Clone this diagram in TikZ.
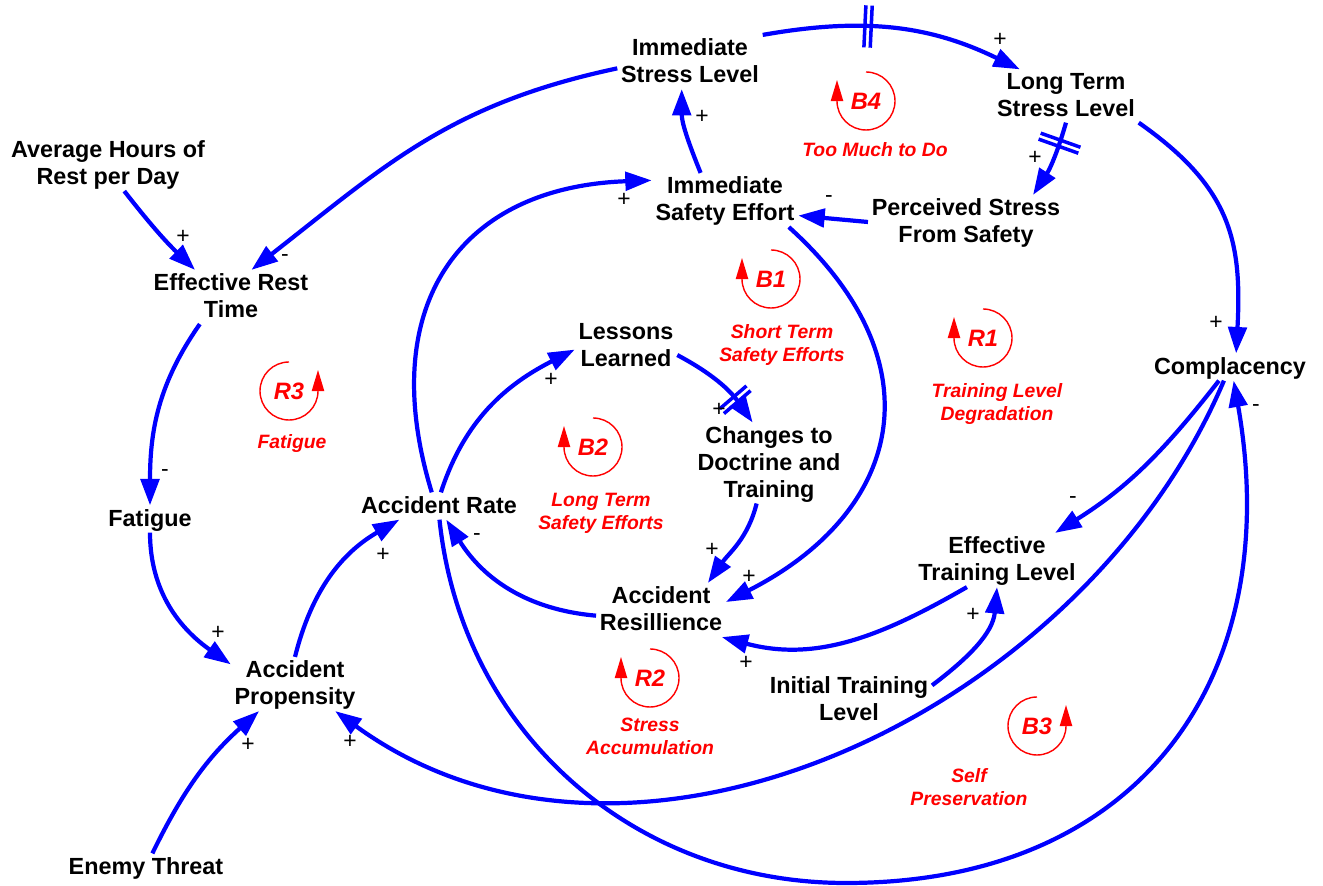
\documentclass[tikz,border=0pt]{standalone}
\usepackage{fontspec}
\setmainfont{Liberation Sans}
\usetikzlibrary{arrows.meta,decorations.markings}
\definecolor{cldblue}{RGB}{0,0,255}
\definecolor{cldred}{RGB}{255,0,0}

\begin{document}
\begin{tikzpicture}[
  x=0.02cm, y=0.02cm,
  var/.style={align=center,inner sep=2pt,text depth=1.5pt,font=\bfseries\fontsize{13.3}{15.3}\selectfont},
  link/.style={cldblue,line width=2.4pt,-{Triangle[length=15pt,width=10.5pt]}},
  sgn/.style={inner sep=0pt,font=\fontsize{13}{15}\selectfont},
  loopid/.style={cldred,inner sep=0pt,font=\bfseries\itshape\fontsize{13.5}{16}\selectfont},
  loopname/.style={cldred,align=center,inner sep=0pt,font=\bfseries\itshape\fontsize{11}{13}\selectfont},
  loopmark/.style={cldred,line width=0.8pt,-{Triangle[length=12pt,width=7pt]}},
  delaybars/.style 2 args={postaction={decorate,decoration={markings,
    mark=at position #1 with {\draw[cldblue,line width=2pt,arrows=-] (-1.8pt,-#2) -- (-1.8pt,#2) (1.8pt,-#2) -- (1.8pt,#2);}}}}
]
\useasboundingbox (0,0) rectangle (1323,886);

% Variables
\node[var] (isl) at (690,824) {Immediate\\Stress Level};
\node[var] (ltsl) at (1066,790) {Long Term\\Stress Level};
\node[var] (ahr) at (108,722) {Average Hours of\\Rest per Day};
\node[var] (ert) at (231,589) {Effective Rest\\Time};
\node[var] (ise) at (725,686) {Immediate\\Safety Effort};
\node[var] (pss) at (966,664) {Perceived Stress\\From Safety};
\node[var] (ll) at (626,540) {Lessons\\Learned};
\node[var] (cdt) at (769,423) {Changes to\\Doctrine and\\Training};
\node[var] (comp) at (1230,519) {Complacency};
\node[var] (fat) at (150,367) {Fatigue};
\node[var] (ar) at (439,380) {Accident Rate};
\node[var] (etl) at (997,326) {Effective\\Training Level};
\node[var] (ares) at (661,276) {Accident\\Resillience};
\node[var] (ap) at (295,202) {Accident\\Propensity};
\node[var] (itl) at (849,186) {Initial Training\\Level};
\node[var] (et) at (146,19) {Enemy Threat};
\coordinate (arbot) at (846,3);

% Links
\draw[link,delaybars={0.4}{12pt}] (isl.north east) to[out=10,in=154] (ltsl.150);
\draw[link,delaybars={0.27}{12pt}] (ltsl.south) to[out=-106,in=57] (pss.22);
\draw[link] (ltsl.south east) to[out=-35,in=87,looseness=1.15] ([xshift=3.5pt]comp.north);
\draw[link] (pss.west) -- (ise.-12);
\draw[link] (ise.132) to[out=112,in=-90] (isl.-107);
\draw[link] (isl.185) to[out=192,in=38,looseness=1.05] (ert.53);
\draw[link] (ahr.-59) to[out=-52,in=136] (ert.143);
\draw[link] (ert.-139) to[out=-125,in=90] (fat.north);
\draw[link] (fat.south) to[out=-90,in=145] (ap.163);
\draw[link] (et.65) to[out=64,in=-138] (ap.-143);
\draw[link] (ap.north) to[out=76,in=-150] (ar.-161);
\draw[link] (ar.118) to[out=107,in=182,looseness=1.3] (ise.165);
\draw[link] (ar.82) to[out=72,in=-153] (ll.184);
\draw[link,delaybars={0.72}{10pt}] (ll.-10) to[out=-28,in=125] (cdt.112);
\draw[link] (cdt.-107) to[out=-104,in=55] (ares.30);
\draw[link] (ise.-23) to[out=-42,in=27,looseness=1.35] (ares.7);
\draw[link] (ares.185) to[out=175,in=-58] (ar.-62);
\draw[link] (etl.-138) to[out=-150,in=-15] (ares.-24);
\draw[link] (itl.10) to[out=37,in=-95] (etl.south);
\draw[link] (comp.-129) to[out=-128,in=32] (etl.25);
\draw[link] (comp.-114) to[out=-113,in=-36,looseness=0.98] (ap.-34);
\draw[link] (ar.-88) to[out=-84,in=180] (arbot) to[out=0,in=-80,looseness=1.2] (comp.-75);

% Polarities
\node[sgn] (s1) at (1000,846) {+};
\node[sgn] (s2) at (1035,728) {+};
\node[sgn] (s3) at (1216,563) {+};
\node[sgn] (s4) at (829,687) {-};
\node[sgn] (s5) at (702,769) {+};
\node[sgn] (s6) at (285,628) {-};
\node[sgn] (s7) at (183,649) {+};
\node[sgn] (s8) at (165,413) {-};
\node[sgn] (s9) at (218,253) {+};
\node[sgn] (s10) at (248,141) {+};
\node[sgn] (s11) at (383,331) {+};
\node[sgn] (s12) at (624,686) {+};
\node[sgn] (s13) at (551,506) {+};
\node[sgn] (s14) at (719,476) {+};
\node[sgn] (s15) at (712,336) {+};
\node[sgn] (s16) at (749,309) {+};
\node[sgn] (s17) at (477,349) {-};
\node[sgn] (s18) at (746,223) {+};
\node[sgn] (s19) at (973,271) {+};
\node[sgn] (s20) at (1073,386) {-};
\node[sgn] (s21) at (350,144) {+};
\node[sgn] (s22) at (1256,478) {-};

% Loops
\node[loopid] (lb4) at (866,785) {B4};
\draw[loopmark] ([shift={(90:29)}]lb4.center) arc[start angle=90,end angle=-180,radius=29] -- ++(0,21);
\node[loopname] (nb4) at (875,736) {Too Much to Do};

\node[loopid] (lb1) at (771,607) {B1};
\draw[loopmark] ([shift={(90:29)}]lb1.center) arc[start angle=90,end angle=-180,radius=29] -- ++(0,21);
\node[loopname] (nb1) at (782,541) {Short Term\\Safety Efforts};

\node[loopid] (lr1) at (983,548) {R1};
\draw[loopmark] ([shift={(90:29)}]lr1.center) arc[start angle=90,end angle=-180,radius=29] -- ++(0,21);
\node[loopname] (nr1) at (997,482) {Training Level\\Degradation};

\node[loopid] (lr3) at (289,495) {R3};
\draw[loopmark] ([shift={(90:29)}]lr3.center) arc[start angle=90,end angle=360,radius=29] -- ++(0,21);
\node[loopname] (nr3) at (292,442) {Fatigue};

\node[loopid] (lb2) at (593,439) {B2};
\draw[loopmark] ([shift={(90:29)}]lb2.center) arc[start angle=90,end angle=-180,radius=29] -- ++(0,21);
\node[loopname] (nb2) at (601,373) {Long Term\\Safety Efforts};

\node[loopid] (lr2) at (650,208) {R2};
\draw[loopmark] ([shift={(90:29)}]lr2.center) arc[start angle=90,end angle=-180,radius=29] -- ++(0,21);
\node[loopname] (nr2) at (650,150) {Stress\\Accumulation};

\node[loopid] (lb3) at (1037,160) {B3};
\draw[loopmark] ([shift={(90:29)}]lb3.center) arc[start angle=90,end angle=360,radius=29] -- ++(0,21);
\node[loopname] (nb3) at (969,99) {Self\\Preservation};
\end{tikzpicture}
\end{document}
